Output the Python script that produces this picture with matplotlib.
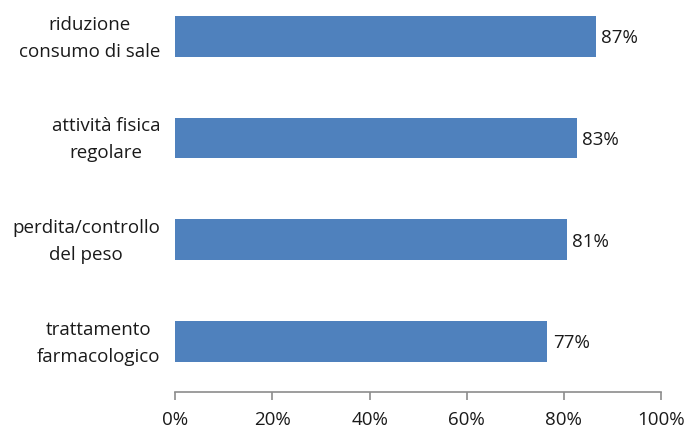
import numpy as np
import matplotlib.pyplot as plt
from matplotlib.transforms import ScaledTranslation

categories = ["riduzione\nconsumo di sale", "attività fisica\nregolare",
              "perdita/controllo\ndel peso", "trattamento\nfarmacologico"]
values = [86.6, 82.7, 80.6, 76.6]
xticks = [0, 20, 40, 60, 80, 100]

plt.rcParams['font.family'] = ['Open Sans', 'DejaVu Sans']

fig = plt.figure(figsize=(6.86, 4.29), dpi=100)
ax = fig.add_axes([175.3 / 686, 37 / 429, 485.7 / 686, 406.6 / 429])

y = np.arange(len(categories))[::-1]
ax.barh(y, values, height=0.4, color='#4f81bd')

down = ScaledTranslation(0, -2 / 100, fig.dpi_scale_trans)
for yi, v in zip(y, values):
    ax.text(v + 1.1, yi, f"{round(v)}%", va='center', ha='left', fontsize=13.5,
            color='#1a1a1a', transform=ax.transData + down)

# category labels, centred lines, right edge 15px left of the axis
lab_tr = ax.get_yaxis_transform() + ScaledTranslation(-15 / 100, -2 / 100, fig.dpi_scale_trans)
for yi, cat in zip(y, categories):
    ax.text(0, yi, cat, ha='right', va='center', multialignment='center',
            fontsize=13.5, color='#1a1a1a', linespacing=1.65, transform=lab_tr)

ax.set_xlim(0, 100)
ax.set_ylim(-0.5, 3.5)
ax.set_xticks(xticks)
ax.set_xticklabels([f"{t}%" for t in xticks], fontsize=13.5, color='#1a1a1a')
ax.set_yticks([])

for s in ['top', 'right', 'left']:
    ax.spines[s].set_visible(False)
ax.spines['bottom'].set_color('#8c8c8c')
ax.spines['bottom'].set_linewidth(1.2)
ax.tick_params(axis='x', direction='out', length=6, width=1.2, color='#8c8c8c', pad=8)

fig.savefig("out.png", dpi=100)
